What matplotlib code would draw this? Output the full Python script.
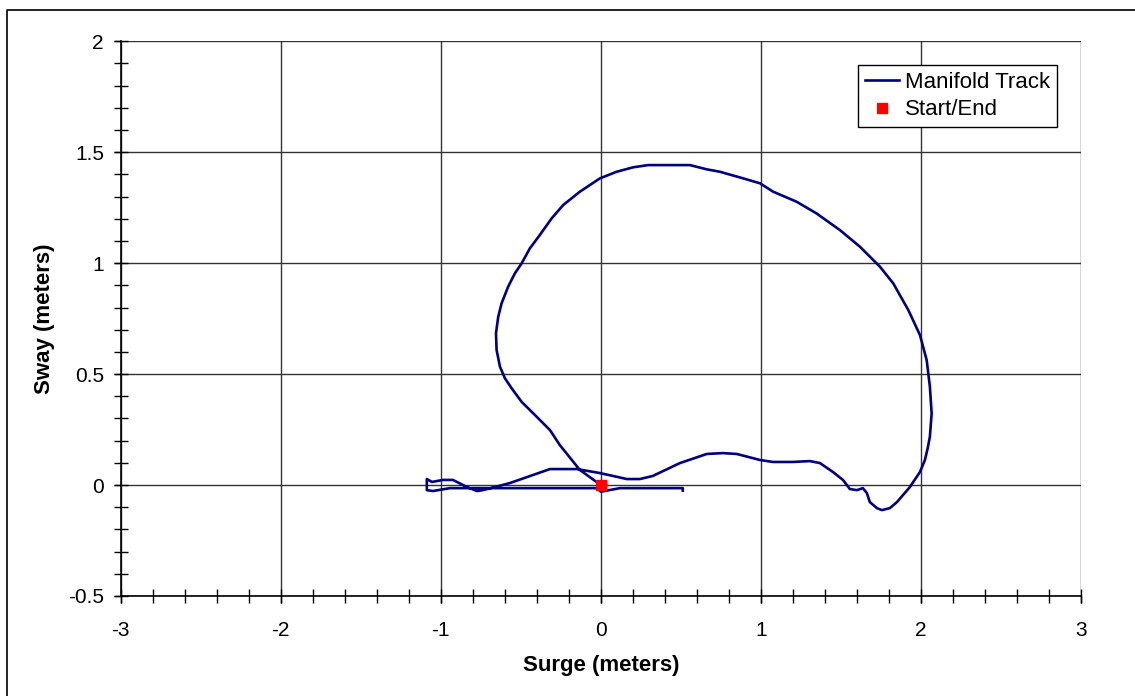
import numpy as np
import matplotlib.pyplot as plt
from matplotlib.lines import Line2D
from matplotlib.ticker import MultipleLocator

plt.rcParams['font.family'] = ['Liberation Sans', 'DejaVu Sans']

# manifold track (meters)
surge = [0.0, -0.131, -0.256, -0.318, -0.422, -0.495, -0.557, -0.599, -0.630, -0.651,
         -0.655, -0.641, -0.620, -0.579, -0.537, -0.495, -0.443, -0.381, -0.307, -0.235,
         -0.131, -0.006, 0.099, 0.202, 0.296, 0.557, 0.661, 0.744, 0.890, 0.994,
         1.077, 1.223, 1.348, 1.494, 1.619, 1.744, 1.827, 1.921, 1.994, 2.036,
         2.056, 2.067, 2.056, 2.042, 2.025, 1.994, 1.931, 1.850, 1.806, 1.756,
         1.725, 1.681, 1.662, 1.637, 1.600, 1.556, 1.513, 1.450, 1.369, 1.306,
         1.200, 1.075, 0.994, 0.850, 0.762, 0.662, 0.494, 0.325, 0.244, 0.163,
         -0.006, -0.149, -0.318, -0.568, -0.737, -0.774, -0.836, -0.924, -0.986, -1.055,
         -1.087, -1.087, -1.049, -0.943, -0.693, -0.318, -0.024, 0.0, 0.12, 0.512, 0.512]
sway = [0.0, 0.068, 0.180, 0.248, 0.323, 0.375, 0.436, 0.481, 0.533, 0.608,
        0.684, 0.758, 0.819, 0.894, 0.954, 0.999, 1.067, 1.127, 1.202, 1.262,
        1.322, 1.382, 1.412, 1.432, 1.442, 1.442, 1.423, 1.412, 1.382, 1.360,
        1.322, 1.277, 1.224, 1.149, 1.074, 0.984, 0.909, 0.789, 0.676, 0.563,
        0.443, 0.323, 0.218, 0.165, 0.113, 0.059, -0.009, -0.077, -0.104, -0.113,
        -0.104, -0.077, -0.036, -0.014, -0.023, -0.018, 0.023, 0.059, 0.099, 0.108,
        0.104, 0.104, 0.113, 0.140, 0.144, 0.140, 0.099, 0.041, 0.027, 0.027,
        0.054, 0.072, 0.072, 0.009, -0.023, -0.027, -0.009, 0.023, 0.023, 0.014,
        0.027, -0.023, -0.027, -0.014, -0.014, -0.014, -0.014, -0.03, -0.014, -0.014, -0.025]
start_end = ([0.0], [0.0])

x_ticks = [-3, -2, -1, 0, 1, 2, 3]
x_labels = ['-3', '-2', '-1', '0', '1', '2', '3']
y_ticks = [-0.5, 0, 0.5, 1, 1.5, 2]
y_labels = ['-0.5', '0', '0.5', '1', '1.5', '2']

fig = plt.figure(figsize=(11.35, 6.96), dpi=100)
ax = fig.add_axes([0.1063, 0.1437, 0.8461, 0.7970])

ax.plot(surge, sway, color='#000080', lw=1.9, label='Manifold Track', zorder=3)
ax.plot(*start_end, 's', color='red', ms=7, ls='none', label='Start/End', zorder=4)

ax.set_xlim(-3, 3)
ax.set_ylim(-0.5, 2)
ax.set_xticks(x_ticks)
ax.set_xticklabels(x_labels)
ax.set_yticks(y_ticks)
ax.set_yticklabels(y_labels)
ax.xaxis.set_minor_locator(MultipleLocator(0.2))
ax.yaxis.set_minor_locator(MultipleLocator(0.1))
ax.xaxis.remove_overlapping_locs = False
ax.yaxis.remove_overlapping_locs = False

ax.tick_params(which='major', direction='out', length=5, width=1, labelsize=15)
ax.tick_params(axis='x', which='major', pad=13)
ax.tick_params(axis='y', which='major', pad=7)
ax.tick_params(which='minor', direction='inout', length=9.5, width=1)

ax.grid(True, which='major', color='#333333', lw=1)
ax.set_axisbelow(True)
for s in ['top', 'right']:
    ax.spines[s].set_visible(False)
for s in ['left', 'bottom']:
    ax.spines[s].set_linewidth(1.2)

ax.set_xlabel('Surge (meters)', fontsize=16, fontweight='bold', labelpad=11)
ax.set_ylabel('Sway (meters)', fontsize=16, fontweight='bold', labelpad=9)

leg = ax.legend(loc='upper right', bbox_to_anchor=(0.9747, 0.957), fontsize=16,
                fancybox=False, framealpha=1, edgecolor='black', borderpad=0.3,
                handlelength=1.55, handletextpad=0.25, labelspacing=0.3, borderaxespad=0)
leg.get_frame().set_linewidth(1)

# outer chart border (cut at right and bottom edges)
x0, y0 = 7 / 1135, 1 - 10 / 696
fig.add_artist(Line2D([x0, x0, 1], [0, y0, y0], transform=fig.transFigure,
                      color='black', lw=1.2))

fig.savefig('out.png', dpi=100)
